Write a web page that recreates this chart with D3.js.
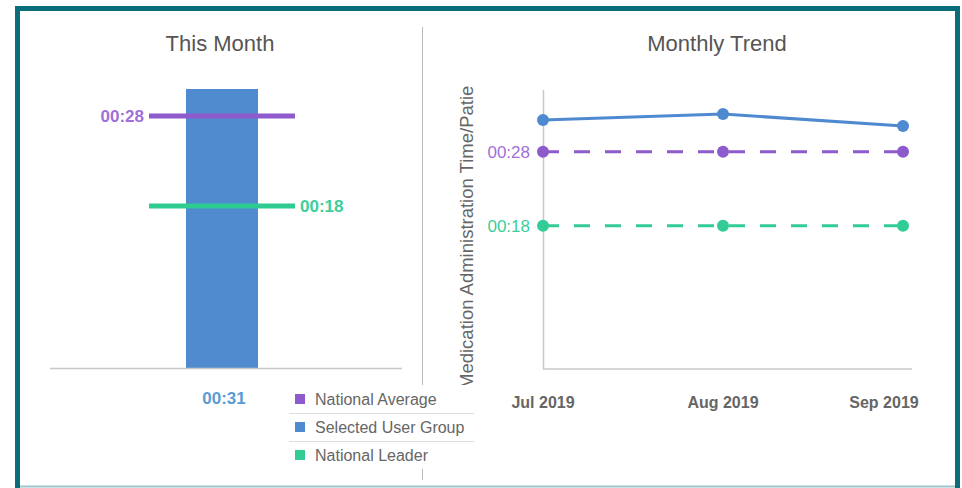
<!DOCTYPE html>
<html>
<head>
<meta charset="utf-8">
<script src="https://cdn.jsdelivr.net/npm/d3@7"></script>
<style>
  html, body { margin: 0; padding: 0; background: #fff; }
  svg { display: block; font-family: Arial, "Liberation Sans", sans-serif; }
</style>
</head>
<body>
<svg id="chart" width="962" height="488"></svg>
<script>
// data (seconds)
var thisMonth = 31;
var nationalAverage = 28;
var nationalLeader = 18;
var months = ["Jul 2019", "Aug 2019", "Sep 2019"];
var userGroupTrend = [32.3, 33.1, 31.5];
var averageTrend = [28, 28, 28];
var leaderTrend = [18, 18, 18];
var legendLabels = ["National Average", "Selected User Group", "National Leader"];

var purple = "#8e5bcc", blue = "#4f8ad0", green = "#33cc95";
var legendColors = [purple, blue, green];

function fmt(s) {
  var m = Math.floor(s / 60), r = Math.round(s % 60);
  return (m < 10 ? "0" : "") + m + ":" + (r < 10 ? "0" : "") + r;
}

var svg = d3.select("#chart");

// frame
svg.append("rect").attr("x", 17.5).attr("y", 8.5).attr("width", 940).attr("height", 490)
  .attr("fill", "none").attr("stroke", "#0b6d79").attr("stroke-width", 5);
svg.append("line").attr("x1", 20).attr("x2", 955).attr("y1", 486.5).attr("y2", 486.5)
  .attr("stroke", "#9cc6ca").attr("stroke-width", 2);

// divider
svg.append("line").attr("x1", 422.5).attr("x2", 422.5).attr("y1", 27).attr("y2", 480)
  .attr("stroke", "#bbb");

/////////////////////////////////////////////////////////////
// This Month
svg.append("text").attr("x", 220).attr("y", 51).attr("text-anchor", "middle")
  .attr("font-size", 22).attr("fill", "#555").text("This Month");

var y1 = d3.scaleLinear().domain([0, thisMonth]).range([368, 89]);

svg.append("rect").attr("x", 186).attr("width", 72)
  .attr("y", y1(thisMonth)).attr("height", y1(0) - y1(thisMonth)).attr("fill", "#508bd0");

svg.append("line").attr("x1", 50).attr("x2", 402).attr("y1", 368.5).attr("y2", 368.5)
  .attr("stroke", "#c8c8c8").attr("stroke-width", 1.5);

var refs = [
  {v: nationalAverage, c: purple, tc: "#a070d8", side: "left"},
  {v: nationalLeader, c: "#2ecc91", tc: "#3ccf9a", side: "right"}
];
refs.forEach(function(d) {
  svg.append("line").attr("x1", 149).attr("x2", 295)
    .attr("y1", y1(d.v)).attr("y2", y1(d.v))
    .attr("stroke", d.c).attr("stroke-width", 5);
  svg.append("text")
    .attr("x", d.side == "left" ? 144 : 300)
    .attr("y", y1(d.v) + 6)
    .attr("text-anchor", d.side == "left" ? "end" : "start")
    .attr("font-size", 17).attr("font-weight", "bold").attr("fill", d.tc)
    .text(fmt(d.v));
});

svg.append("text").attr("x", 224).attr("y", 404).attr("text-anchor", "middle")
  .attr("font-size", 17).attr("font-weight", "bold").attr("fill", "#5b9bd5")
  .text(fmt(thisMonth));

/////////////////////////////////////////////////////////////
// Monthly Trend
svg.append("text").attr("x", 717).attr("y", 51).attr("text-anchor", "middle")
  .attr("font-size", 22).attr("fill", "#555").text("Monthly Trend");

var x = d3.scalePoint().domain(months).range([543, 903]);
var y2 = d3.scaleLinear().domain([0, 36]).range([359, 92.6]);

// axes
svg.append("line").attr("x1", 543.5).attr("x2", 543.5).attr("y1", 90).attr("y2", 369)
  .attr("stroke", "#c8c8c8").attr("stroke-width", 1.5);
svg.append("line").attr("x1", 543).attr("x2", 912).attr("y1", 369).attr("y2", 369)
  .attr("stroke", "#c8c8c8").attr("stroke-width", 1.5);

// y axis title, clipped
svg.append("clipPath").attr("id", "ytclip").append("rect")
  .attr("x", 440).attr("y", 86).attr("width", 50).attr("height", 299);
svg.append("g").attr("clip-path", "url(#ytclip)")
  .append("text")
  .attr("transform", "translate(473,389) rotate(-90)")
  .attr("text-anchor", "start").attr("font-size", 18.5).attr("fill", "#666")
  .text("Medication Administration Time/Patient Encounter");

var series = [
  {vals: userGroupTrend, c: blue, dash: null},
  {vals: averageTrend, c: purple, dash: "16,15"},
  {vals: leaderTrend, c: green, dash: "16,15"}
];
var line = d3.line().x(function(d, i) { return x(months[i]); }).y(function(d) { return y2(d); });

series.forEach(function(s) {
  svg.append("path").datum(s.vals)
    .attr("fill", "none").attr("stroke", s.c).attr("stroke-width", 3)
    .attr("stroke-dasharray", s.dash).attr("d", line);
  svg.append("g").selectAll("circle").data(s.vals).join("circle")
    .attr("cx", function(d, i) { return x(months[i]); })
    .attr("cy", function(d) { return y2(d); })
    .attr("r", 6).attr("fill", s.c);
});

// colored y labels
[{v: nationalAverage, c: "#a070d8"}, {v: nationalLeader, c: "#3ccf9a"}].forEach(function(d) {
  svg.append("text").attr("x", 530).attr("y", y2(d.v) + 6).attr("text-anchor", "end")
    .attr("font-size", 17).attr("fill", d.c).text(fmt(d.v));
});

// x labels
svg.append("g").selectAll("text").data(months).join("text")
  .attr("x", function(d) { return Math.min(x(d), 884); })
  .attr("y", 408).attr("text-anchor", "middle")
  .attr("font-size", 16).attr("font-weight", "bold").attr("fill", "#666")
  .text(function(d) { return d; });

/////////////////////////////////////////////////////////////
// legend
var lg = svg.append("g").attr("transform", "translate(289,385)");
lg.append("rect").attr("width", 185).attr("height", 84).attr("fill", "#fff");
legendLabels.forEach(function(l, i) {
  var g = lg.append("g").attr("transform", "translate(0," + (i * 28) + ")");
  g.append("rect").attr("x", 6).attr("y", 9).attr("width", 10).attr("height", 10)
    .attr("fill", legendColors[i]);
  g.append("text").attr("x", 26).attr("y", 20).attr("font-size", 16).attr("fill", "#666").text(l);
  if (i < 2) {
    g.append("line").attr("x1", 0).attr("x2", 185).attr("y1", 28.5).attr("y2", 28.5)
      .attr("stroke", "#ddd");
  }
});
</script>
</body>
</html>
